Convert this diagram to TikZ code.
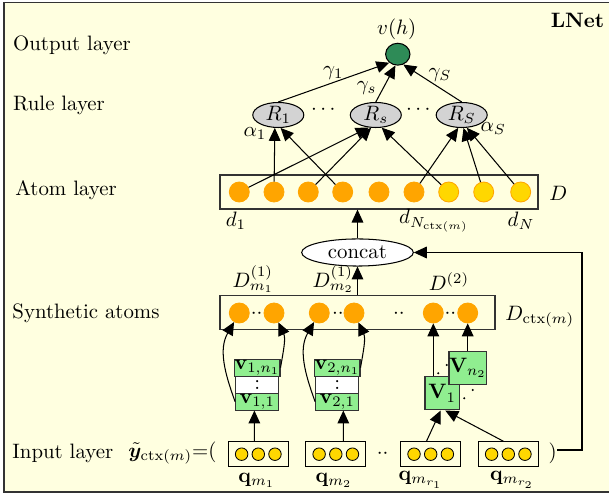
\documentclass[tikz,border=0pt]{standalone}
\usepackage{amsmath,bm}
\usetikzlibrary{shapes.geometric,arrows.meta}
\definecolor{bgy}{HTML}{FFFFE0}
\definecolor{orng}{HTML}{FFA500}
\definecolor{gld}{HTML}{FFD700}
\definecolor{lgrn}{HTML}{90EE90}
\definecolor{lgry}{HTML}{D3D3D3}
\definecolor{dgrn}{HTML}{2E8B57}
\definecolor{frm}{HTML}{333333}
\begin{document}
\begin{tikzpicture}[x=0.48pt,y=-0.48pt,
 arr/.style={-{Triangle[length=6.2pt,width=5.6pt]},line width=0.5pt},
 txt/.style={inner sep=0pt},
 atomo/.style={circle,fill=orng,draw=orng,minimum size=9.6pt,inner sep=0pt},
 atomy/.style={circle,fill=gld,draw=orng,line width=0.4pt,minimum size=9.6pt,inner sep=0pt},
 qdot/.style={circle,fill=gld,draw=black,line width=0.4pt,minimum size=6pt,inner sep=0pt},
 rulenode/.style={ellipse,draw,fill=lgry,line width=0.5pt,minimum width=24.5pt,minimum height=12pt,inner sep=0pt},
 layerbox/.style={rectangle,draw=frm,line width=0.6pt,fill=bgy,inner sep=0pt},
 qbox/.style={rectangle,draw=black,line width=0.5pt,fill=bgy,minimum width=28.8pt,minimum height=12pt,inner sep=0pt},
 vrow/.style={rectangle,draw=frm,line width=0.5pt,fill=lgrn,minimum width=20.8pt,minimum height=8pt,inner sep=0pt},
 vbig/.style={rectangle,draw=frm,line width=0.5pt,fill=lgrn,minimum width=16.5pt,minimum height=16pt,inner sep=0pt},
 smalldot/.style={circle,fill=black,inner sep=0pt,minimum size=1.1pt},
]
\useasboundingbox (0,0) rectangle (609,494);
\fill[white] (0,0) rectangle (609,494);
\draw[frm,line width=0.7pt,fill=bgy] (4,2.7) rectangle (620,492);

% left labels
\node[txt,anchor=west] (lout) at (12.7,45) {Output layer};
\node[txt,anchor=west] (lrule) at (12.7,105) {Rule layer};
\node[txt,anchor=west] (latom) at (15,190) {Atom layer};
\node[txt,anchor=west] (lsyn) at (12,313) {Synthetic atoms};
\node[txt,anchor=west] (lin) at (12,453) {Input layer};
\node[txt,anchor=west] (ytil) at (128,453) {$\tilde{\bm{y}}_{\mathrm{ctx}(m)}{=}($};
\node[txt] (lnet) at (577.5,20.7) {\textbf{LNet}};

% output
\node[ellipse,draw,fill=dgrn,line width=0.5pt,minimum width=11.7pt,minimum height=10.5pt,inner sep=0pt] (out) at (397.8,54.2) {};
\node[txt] (vh) at (396.7,29.3) {$v(h)$};

% rule layer
\node[rulenode] (R1) at (278.3,115) {$R_1$};
\node[rulenode] (Rs) at (375.8,115) {$R_s$};
\node[rulenode] (RS) at (461.7,115) {$R_S$};
\node[txt] (rd1) at (325,110) {$\cdots$};
\node[txt] (rd2) at (420,110) {$\cdots$};
\node[txt] (al1) at (255,133.3) {$\alpha_1$};
\node[txt] (alS) at (493.3,128.3) {$\alpha_S$};
\node[txt] (g1) at (333.3,73.3) {$\gamma_1$};
\node[txt] (gs) at (366.7,88) {$\gamma_s$};
\node[txt] (gS) at (440,75) {$\gamma_S$};

\draw[arr] (R1.north) -- (out.225);
\draw[arr] (Rs.north) -- (out.258);
\draw[arr] (RS.north) -- (out.298);

% atom layer
\node[layerbox,minimum width=152.6pt,minimum height=16.3pt] (atombox) at (379,192) {};
\node[atomo] (a1) at (239.3,192) {};
\node[atomo] (a2) at (274,192) {};
\node[atomo] (a3) at (308.3,192) {};
\node[atomo] (a4) at (342.7,192) {};
\node[atomo] (a5) at (379,192) {};
\node[atomo] (a6) at (414,192) {};
\node[atomy] (a7) at (448.7,192) {};
\node[atomy] (a8) at (483.7,192) {};
\node[atomy] (a9) at (520.7,192) {};
\node[txt] (Dl) at (558.3,193.3) {$D$};
\node[txt] (d1) at (236,221) {$d_1$};
\node[txt] (dNc) at (434,221) {$d_{N_{\mathrm{ctx}(m)}}$};
\node[txt] (dN) at (521,221) {$d_N$};

\draw[arr] (a1) -- (Rs.240);
\draw[arr] (a2) -- (R1.255);
\draw[arr] (a3) -- (Rs.250);
\draw[arr] (a4) -- (R1.280);
\draw[arr] (a6) -- (RS.255);
\draw[arr] (a7) -- (Rs.295);
\draw[arr] (a8) -- (RS.278);
\draw[arr] (a9) -- (RS.292);

% concat
\node[ellipse,draw,fill=white,line width=0.5pt,minimum width=53.6pt,minimum height=13pt,inner sep=0pt] (concat) at (357.5,252.5) {concat};
\draw[arr] (concat.north) -- (concat.north |- atombox.south);

% synthetic atoms
\node[layerbox,minimum width=132pt,minimum height=16.1pt] (synbox) at (357.5,312.5) {};
\node[atomo] (s1) at (239.3,313) {};
\node[atomo] (s2) at (274,313) {};
\node[atomo] (s3) at (319.3,313) {};
\node[atomo] (s4) at (354,313) {};
\node[atomo] (s5) at (433.3,313) {};
\node[atomo] (s6) at (467.7,313) {};
\node[txt] (sd1) at (256.6,314) {${\cdot}{\cdot}$};
\node[txt] (sd2) at (337.8,314) {${\cdot}{\cdot}$};
\node[txt] (sd3) at (399,314) {${\cdot}{\cdot}$};
\node[txt] (sd4) at (450.5,314) {${\cdot}{\cdot}$};
\node[txt] (Dm1) at (253.3,279) {$D^{(1)}_{m_1}$};
\node[txt] (Dm2) at (333.3,279) {$D^{(1)}_{m_2}$};
\node[txt] (D2) at (449,281.7) {$D^{(2)}$};
\node[txt,anchor=west] (Dctx) at (505,316.7) {$D_{\mathrm{ctx}(m)}$};
\draw[arr] (synbox.north) -- (concat.south);

% v boxes
\node[vrow] (v1t) at (257.3,367.7) {$\mathbf{v}_{1,n_1}$};
\node[vrow,fill=white] (v1m) at (257.3,384.7) {:};
\node[vrow] (v1b) at (257.3,401.7) {$\mathbf{v}_{1,1}$};
\node[vrow] (v2t) at (337.3,367.7) {$\mathbf{v}_{2,n_1}$};
\node[vrow,fill=white] (v2m) at (337.3,384.7) {:};
\node[vrow] (v2b) at (337.3,401.7) {$\mathbf{v}_{2,1}$};

\draw[arr] (v1b.west) to[out=110,in=240] (s1.240);
\draw[arr] (v1t.east) to[out=80,in=-65] (s2.-65);
\draw[arr] (v2b.west) to[out=110,in=240] (s3.240);
\draw[arr] (v2t.east) to[out=80,in=-65] (s4.-65);

% V boxes
\node[vbig] (V1) at (442.2,393.3) {$\mathbf{V}_1$};
\node[vbig] (Vn2) at (467.8,367.8) {$\mathbf{V}_{n_2}$};
\node[smalldot] (dt1) at (438.3,373.3) {};
\node[smalldot] (dt2) at (446.7,365) {};
\node[smalldot] (dt3) at (464.3,398.3) {};
\node[smalldot] (dt4) at (472.7,390) {};
\draw[arr] (V1.north -| s5) -- (s5.south);
\draw[arr] (Vn2.north -| s6) -- (s6.south);

% input layer
\node[qbox] (q1) at (258.3,454.2) {};
\node[qbox] (q2) at (335.8,454.2) {};
\node[qbox] (q3) at (430.7,454.2) {};
\node[qbox] (q4) at (508.3,454.2) {};
\foreach \q in {q1,q2,q3,q4}{
  \node[qdot] (\q a) at ([xshift=-8pt]\q.center) {};
  \node[qdot] (\q b) at (\q.center) {};
  \node[qdot] (\q c) at ([xshift=8pt]\q.center) {};
}
\node[txt] (qd) at (382.7,454) {${\cdot}{\cdot}$};
\node[txt] (rpar) at (552.7,453) {)};
\node[txt] (ql1) at (256.7,480) {$\mathbf{q}_{m_1}$};
\node[txt] (ql2) at (334,480) {$\mathbf{q}_{m_2}$};
\node[txt] (ql3) at (421,480) {$\mathbf{q}_{m_{r_1}}$};
\node[txt] (ql4) at (512.5,480) {$\mathbf{q}_{m_{r_2}}$};

\draw[arr] ([xshift=-1.9pt]q1.north) -- ([xshift=-1.4pt]v1b.south);
\draw[arr] ([xshift=3.6pt]q2.north) -- ([xshift=2.9pt]v2b.south);
\draw[arr] ([xshift=-2pt]q3.north) -- (V1.-95);
\draw[arr] ([xshift=-2.4pt]q4.north) -- (V1.-80);

\coordinate (fb) at (582,450);
\draw[arr] (rpar.east |- fb) -- (fb) |- (concat.east);
\end{tikzpicture}
\end{document}
